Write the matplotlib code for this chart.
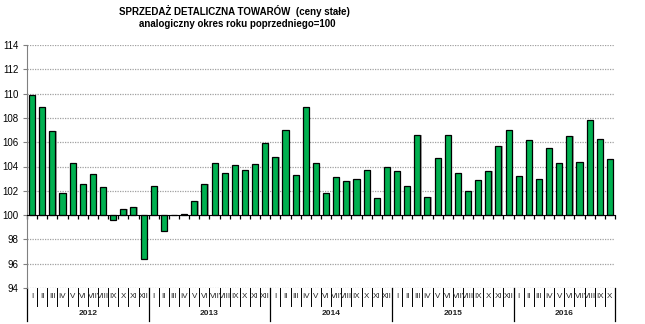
import numpy as np
import matplotlib.pyplot as plt

plt.rcParams['font.family'] = ['Liberation Sans', 'DejaVu Sans']

# dane: sprzedaz detaliczna, analogiczny okres roku poprzedniego = 100
years = ['2012', '2013', '2014', '2015', '2016']
months = ['I', 'II', 'III', 'IV', 'V', 'VI', 'VII', 'VIII', 'IX', 'X', 'XI', 'XII']
v2012 = [109.9, 108.9, 106.9, 101.8, 104.3, 102.6, 103.4, 102.3, 99.6, 100.5, 100.7, 96.4]
v2013 = [102.4, 98.7, 100.0, 100.1, 101.2, 102.6, 104.3, 103.5, 104.1, 103.7, 104.2, 105.9]
v2014 = [104.8, 107.0, 103.3, 108.9, 104.3, 101.8, 103.1, 102.8, 103.0, 103.7, 101.4, 104.0]
v2015 = [103.6, 102.4, 106.6, 101.5, 104.7, 106.6, 103.5, 102.0, 102.9, 103.6, 105.7, 107.0]
v2016 = [103.2, 106.2, 103.0, 105.5, 104.3, 106.5, 104.4, 107.8, 106.3, 104.6]

values = v2012 + v2013 + v2014 + v2015 + v2016
labels = months * 4 + months[:len(v2016)]
n = len(values)
x = np.arange(n)
base = 100

fig = plt.figure(figsize=(6.45, 3.24), dpi=100)
ax = fig.add_axes([27/645, 36/324, 588/645, 243/324])

heights = np.array(values) - base
# cien
ax.bar(x + 0.12, heights, width=0.6, bottom=base, color='#a8a8a8', zorder=2)
ax.bar(x, heights, width=0.6, bottom=base, color='#00B050', edgecolor='black',
       linewidth=0.9, zorder=3)

ax.set_xlim(-0.5, n - 0.5)
ax.set_ylim(94, 114)
ax.set_yticks(np.arange(94, 115, 2))
ax.tick_params(axis='y', labelsize=7, length=3, color='#808080', pad=3)
for yv in np.arange(94, 115, 2):
    if yv != base:
        ax.axhline(yv, color='#a0a0a0', lw=0.9, ls=(0, (1, 1)), zorder=1)

for s in ['top', 'right']:
    ax.spines[s].set_visible(False)
ax.spines['left'].set_color('#808080')
ax.spines['bottom'].set_position(('data', base))
ax.spines['bottom'].set_color('black')
ax.spines['bottom'].set_zorder(4)
ax.set_xticks(np.arange(-0.5, n, 1))
ax.set_xticklabels([])
ax.tick_params(axis='x', length=3, width=0.9, color='black', direction='out')

# etykiety kategorii pod wykresem
tr = ax.get_xaxis_transform()
for i, lab in enumerate(labels):
    ax.text(i, -0.035, lab, transform=tr, ha='center', va='center',
            fontsize=5.8, color='#222222')
for b in np.arange(-0.5, n, 1):
    idx = int(b + 0.5)
    if idx % 12 == 0 or idx == n:
        ax.plot([b, b], [0, -0.135], transform=tr, color='black', lw=0.9, clip_on=False)
    else:
        ax.plot([b, b], [0, -0.075], transform=tr, color='black', lw=0.7, clip_on=False)
for k, yr in enumerate(years):
    cnt = 12 if k < 4 else len(v2016)
    ax.text(k * 12 + (cnt - 1) / 2, -0.105, yr, transform=tr, ha='center', va='center',
            fontsize=6, fontweight='bold', color='#222222')

fig.text(234/645, 1 - 11/324, 'SPRZEDAŻ DETALICZNA TOWARÓW  (ceny stałe)',
         ha='center', va='center', fontsize=7, fontweight='bold')
fig.text(237/645, 1 - 24/324, 'analogiczny okres roku poprzedniego=100',
         ha='center', va='center', fontsize=7, fontweight='bold')

fig.savefig('out.png', dpi=100)
